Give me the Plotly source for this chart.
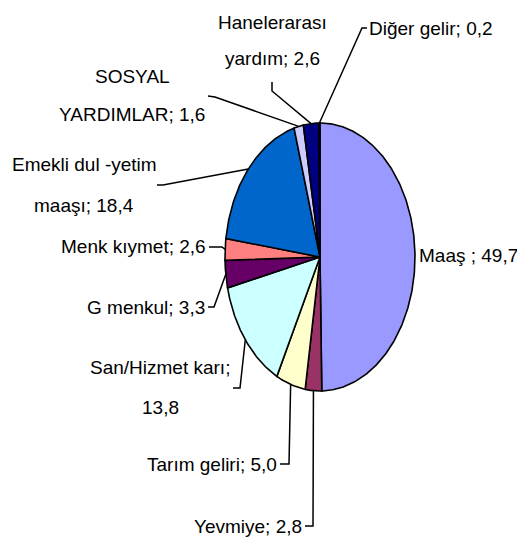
import numpy as np
import plotly.graph_objects as go

categories = ["Maaş ", "Yevmiye", "Tarım geliri", "San/Hizmet karı", "G menkul",
              "Menk kıymet", "Emekli dul -yetim maaşı", "SOSYAL YARDIMLAR",
              "Hanelerarası yardım", "Diğer gelir"]
values = [49.7, 2.8, 5.0, 13.8, 3.3, 2.6, 18.4, 1.6, 2.6, 0.2]
colors = ["#9999FF", "#993366", "#FFFFCC", "#CCFFFF", "#660066",
          "#FF8080", "#0066CC", "#CCCCFF", "#000080", "#FF00FF"]
label_lines = [
    ["Maaş ; 49,7"],
    ["Yevmiye; 2,8"],
    ["Tarım geliri; 5,0"],
    ["San/Hizmet karı;", "13,8"],
    ["G menkul; 3,3"],
    ["Menk kıymet; 2,6"],
    ["Emekli dul -yetim", "maaşı; 18,4"],
    ["SOSYAL", "YARDIMLAR; 1,6"],
    ["Hanelerarası", "yardım; 2,6"],
    ["Diğer gelir; 0,2"],
]

# layout (pixel space of the 525x545 window; the page body has an 8px margin)
W, H = 525, 545
OFF = 8
CX, CY, RX, RY = 320, 257, 95, 134
FONT = dict(family="Liberation Sans, Arial", size=19, color="black")
# label placement: x, y of each line, xanchor
label_pos = [
    (417, [255], "left"),
    (304, [526], "right"),
    (279, [464], "right"),
    (160, [367, 407], "center"),
    (207, [307], "right"),
    (208, [246], "right"),
    (84, [164, 205], "center"),
    (132, [76, 114], "center"),
    (272, [22, 58], "center"),
    (367, [28], "left"),
]
# leader elbows (label side points), None = no leader
leader_pts = [
    None,
    [(305, 526), (313, 526)],
    [(280, 464), (289, 464)],
    [(233, 388), (240, 388)],
    [(208, 307), (214, 307)],
    [(209, 247), (222, 247)],
    [(157, 185), (163, 185)],
    [(208, 96), (215, 97)],
    [(272, 82), (272, 91)],
    [(367, 28), (362, 28)],
]

total = sum(values)
fig = go.Figure()

def pt(frac):
    th = 2 * np.pi * frac
    return CX + RX * np.sin(th), CY - RY * np.cos(th)

cum = 0.0
mids = []
for v, c in zip(values, colors):
    f0 = cum / total
    f1 = (cum + v) / total
    n = max(3, int((f1 - f0) * 500))
    fr = np.linspace(f0, f1, n)
    xs, ys = pt(fr)
    xs = np.concatenate([[CX], xs, [CX]])
    ys = np.concatenate([[CY], ys, [CY]])
    fig.add_trace(go.Scatter(x=xs, y=ys, mode="lines", fill="toself", fillcolor=c,
                             line=dict(color="black", width=1.6), hoverinfo="skip",
                             showlegend=False))
    mids.append((f0 + f1) / 2)
    cum += v

for i, lp in enumerate(leader_pts):
    if lp is None:
        continue
    ex, ey = pt(mids[i])
    xs = [p[0] for p in lp] + [float(ex)]
    ys = [p[1] for p in lp] + [float(ey)]
    fig.add_trace(go.Scatter(x=xs, y=ys, mode="lines", line=dict(color="black", width=1.5),
                             hoverinfo="skip", showlegend=False))

for lines, (x, ys, xa) in zip(label_lines, label_pos):
    for t, y in zip(lines, ys):
        fig.add_annotation(x=x, y=y, text=t, showarrow=False,
                           xanchor=xa, yanchor="middle", font=FONT, xref="x", yref="y")

fig.update_layout(
    width=W - OFF, height=H - OFF, margin=dict(l=0, r=0, t=0, b=0),
    paper_bgcolor="white", plot_bgcolor="white",
    xaxis=dict(range=[OFF, W], visible=False, fixedrange=True),
    yaxis=dict(range=[H, OFF], visible=False, fixedrange=True),
)
fig.write_html("out.html", config={"displayModeBar": False})
